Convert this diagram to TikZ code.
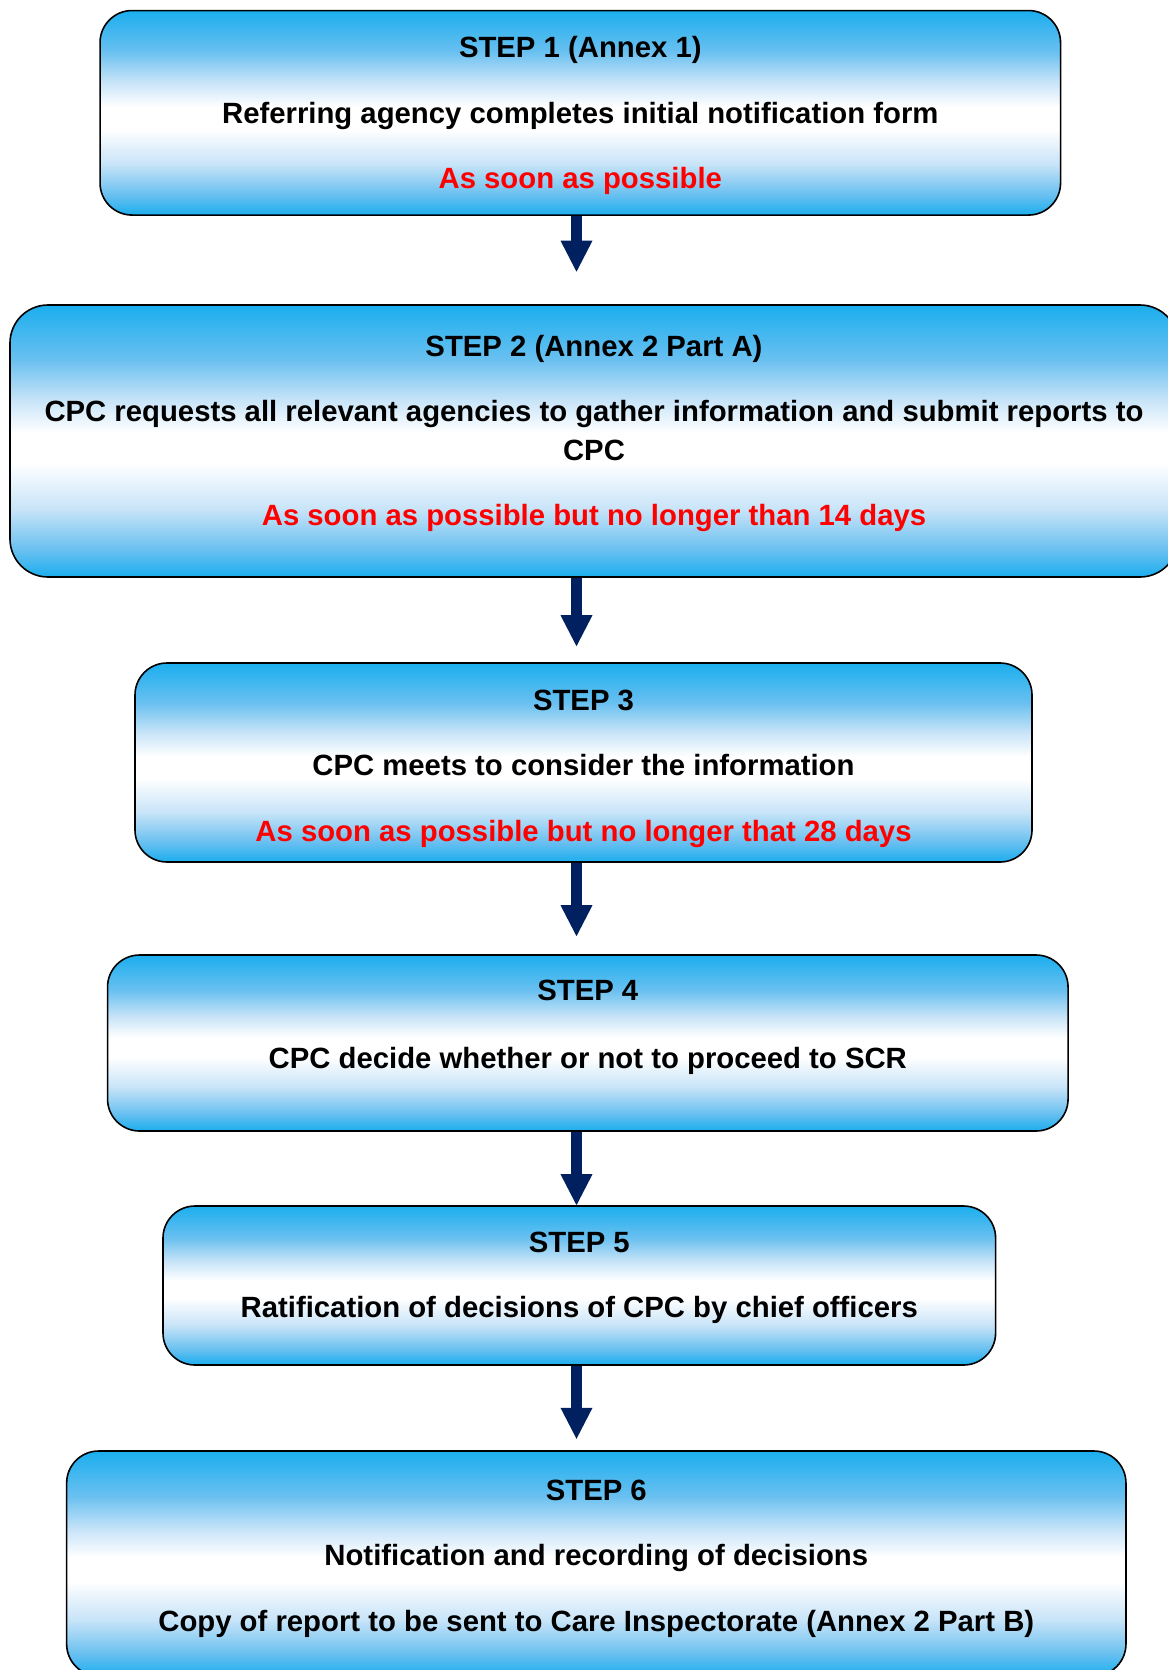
\documentclass[tikz,border=0pt]{standalone}
\usepackage{fontspec}
\setmainfont{Liberation Sans}
\usetikzlibrary{positioning,arrows.meta}
\definecolor{skyblue}{RGB}{27,174,238}
\definecolor{midblue}{RGB}{105,192,240}
\definecolor{paleblue}{RGB}{200,228,248}
\definecolor{navyarrow}{RGB}{0,32,96}
\definecolor{redline}{RGB}{255,0,0}
\pgfdeclareverticalshading{stepfill}{100bp}{color(0bp)=(skyblue); color(25bp)=(skyblue);
  color(30bp)=(midblue); color(37.5bp)=(paleblue); color(46bp)=(white); color(51.5bp)=(white);
  color(57.5bp)=(paleblue); color(65bp)=(midblue); color(75bp)=(skyblue); color(100bp)=(skyblue)}
\newcommand{\stepgap}{\\[13.6pt]}
\begin{document}
\begin{tikzpicture}[x=0.5pt,y=-0.5pt,
  stepbox/.style 2 args={draw=black, line width=0.8pt, rounded corners=16pt, shading=stepfill,
    minimum width=#1, minimum height=#2, inner sep=0pt},
  steptext/.style={inner sep=0pt, align=center, font=\fontsize{14.65pt}{19.15pt}\selectfont\bfseries},
  flow/.style={draw=navyarrow, line width=5.5pt, -{Triangle[width=16pt,length=15.5pt,line width=0pt]}}
]
  \useasboundingbox (0,0) rectangle (1167,1670);
  \node[stepbox={480.25pt}{102.25pt}] (s1) at (580.3,112.8) {};
  \node[stepbox={584pt}{136pt}, rounded corners=19pt] (s2) at (594,441) {};
  \node[stepbox={448.5pt}{99.5pt}] (s3) at (583.5,762.5) {};
  \node[stepbox={480.25pt}{88pt}] (s4) at (587.8,1043) {};
  \node[stepbox={416.3pt}{79.5pt}] (s5) at (579.3,1285.5) {};
  \node[stepbox={529.65pt}{112.5pt}] (s6) at (596.3,1563.5) {};

  \node[steptext, below=13.3pt of s1.north] (t1) {STEP 1 (Annex 1)\stepgap
    Referring agency completes initial notification form\stepgap
    \textcolor{redline}{As soon as possible}};
  \node[steptext, below=15.2pt of s2.north] (t2) {STEP 2 (Annex 2 Part A)\stepgap
    CPC requests all relevant agencies to gather information and submit reports to\\
    CPC\stepgap
    \textcolor{redline}{As soon as possible but no longer than 14 days}};
  \node[steptext, below=13.5pt of s3.north] (t3) {STEP 3\stepgap
    CPC meets to consider the information\stepgap
    \textcolor{redline}{As soon as possible but no longer that 28 days}};
  \node[steptext, below=12.8pt of s4.north] (t4) {STEP 4\\[14.6pt]
    CPC decide whether or not to proceed to SCR};
  \node[steptext, below=13.1pt of s5.north] (t5) {STEP 5\stepgap
    Ratification of decisions of CPC by chief officers};
  \node[steptext, below=14.5pt of s6.north] (t6) {STEP 6\stepgap
    Notification and recording of decisions\stepgap
    Copy of report to be sent to Care Inspectorate (Annex 2 Part B)};

  \coordinate (spine) at (576.5,0);
  \draw[flow, shorten >=16.25pt] (s1.south -| spine) -- (s2.north -| spine);
  \draw[flow, shorten >=8pt] (s2.south -| spine) -- (s3.north -| spine);
  \draw[flow, shorten >=9pt] (s3.south -| spine) -- (s4.north -| spine);
  \draw[flow] (s4.south -| spine) -- (s5.north -| spine);
  \draw[flow, shorten >=5.7pt] (s5.south -| spine) -- (s6.north -| spine);
\end{tikzpicture}
\end{document}
